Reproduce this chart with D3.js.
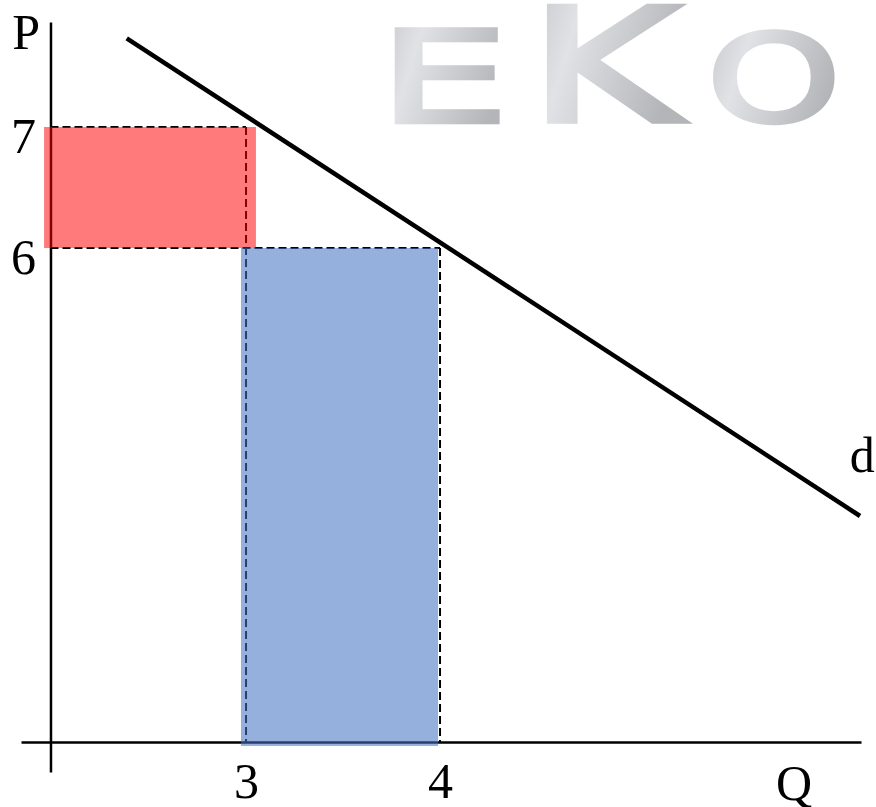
<!DOCTYPE html>
<html>
<head>
<meta charset="utf-8">
<script src="https://cdn.jsdelivr.net/npm/d3@7"></script>
<style>
  html, body { margin: 0; padding: 0; background: #fff; }
  svg { display: block; }
  text { font-family: "Liberation Serif", "DejaVu Serif", serif; }
</style>
</head>
<body>
<svg id="chart" width="876" height="807"></svg>
<script>
// Quantity / price extents of the drawn axes
const qExtent = [1.84, 6.17];
const pExtent = [1.669, 7.868];
const origin = { q: 1.992, p: 1.917 };

// Tick values and labels
const qTicks = [3, 4];
const pTicks = [6, 7];

// Demand curve d
const demand = [
  { q: 2.385, p: 7.733 },
  { q: 6.165, p: 3.785 }
];

// Guide lines (price/quantity pairs)
const guides = [
  { q0: origin.q, p0: 7, q1: 3, p1: 7 },
  { q0: 3, p0: 7, q1: 3, p1: origin.p },
  { q0: origin.q, p0: 6, q1: 4, p1: 6 },
  { q0: 4, p0: 6, q1: 4, p1: origin.p }
];

// Shaded areas: price effect (red) and quantity effect (blue)
const areas = [
  { q0: 1.959, q1: 3.051, p0: 6, p1: 7, fill: "#ff0000", opacity: 0.52 },
  { q0: 2.974, q1: 3.990, p0: 1.884, p1: 6, fill: "#4472c4", opacity: 0.56 }
];

const svg = d3.select("#chart");

const x = d3.scaleLinear().domain(qExtent).range([21, 861]);
const y = d3.scaleLinear().domain(pExtent).range([772, 22]);

// Watermark letters, each stretched to its own box using the glyph's ink bounds
const defs = svg.append("defs");
const grad = defs.append("linearGradient")
  .attr("id", "metal").attr("x1", "0").attr("y1", "0").attr("x2", "1").attr("y2", "0.35");
grad.append("stop").attr("offset", "0%").attr("stop-color", "#c3c4c7");
grad.append("stop").attr("offset", "35%").attr("stop-color", "#e1e2e5");
grad.append("stop").attr("offset", "100%").attr("stop-color", "#b4b5b9");

const wmStroke = 3.5; // outline width in unscaled font units, thickens the glyphs
const marks = [
  { ch: "E", box: [393, 27, 500, 124] },
  { ch: "K", box: [545, 4, 688, 124] },
  { ch: "O", box: [712, 27, 836, 124] }
];
const ctx = document.createElement("canvas").getContext("2d");
ctx.font = "normal 100px 'DejaVu Sans'";
const wm = svg.append("g").attr("class", "watermark");
marks.forEach(m => {
  const mt = ctx.measureText(m.ch);
  const h = wmStroke / 2;
  const inkL = -mt.actualBoundingBoxLeft - h, inkR = mt.actualBoundingBoxRight + h;
  const inkT = -mt.actualBoundingBoxAscent - h, inkB = mt.actualBoundingBoxDescent + h;
  const sx = (m.box[2] - m.box[0]) / (inkR - inkL);
  const sy = (m.box[3] - m.box[1]) / (inkB - inkT);
  wm.append("text")
    .text(m.ch)
    .style("font-family", "'DejaVu Sans', sans-serif")
    .style("font-weight", "normal")
    .style("font-size", "100px")
    .attr("fill", "url(#metal)")
    .attr("stroke", "url(#metal)")
    .attr("stroke-width", wmStroke)
    .attr("stroke-linejoin", "miter")
    .attr("transform", `translate(${m.box[0] - inkL * sx},${m.box[1] - inkT * sy}) scale(${sx},${sy})`);
});

// Guide lines
svg.append("g").selectAll("line")
  .data(guides).join("line")
  .attr("x1", d => x(d.q0)).attr("y1", d => y(d.p0))
  .attr("x2", d => x(d.q1)).attr("y2", d => y(d.p1))
  .style("stroke", "#000").style("stroke-width", "2px")
  .style("stroke-dasharray", "8,4");

// Axes
const xAxis = svg.append("g")
  .attr("transform", `translate(0,${y(origin.p)})`)
  .call(d3.axisBottom(x).tickValues(qTicks).tickFormat(d3.format("d")).tickSize(0).tickPadding(0));
const yAxis = svg.append("g")
  .attr("transform", `translate(${x(origin.q)},0)`)
  .call(d3.axisLeft(y).tickValues(pTicks).tickFormat(d3.format("d")).tickSize(0).tickPadding(0));

[xAxis, yAxis].forEach(g => {
  g.select(".domain").style("stroke", "#000").style("stroke-width", "2.5px");
  g.selectAll(".tick text")
    .style("font-family", "'Liberation Serif', 'DejaVu Serif', serif")
    .style("font-size", "50px")
    .attr("fill", "#000");
});
xAxis.selectAll(".tick text").attr("y", 56).attr("dy", 0);
yAxis.selectAll(".tick text").attr("x", -27).attr("dy", "0.5em").attr("text-anchor", "middle");

// Shaded areas
svg.append("g").selectAll("rect")
  .data(areas).join("rect")
  .attr("x", d => x(d.q0))
  .attr("y", d => y(d.p1))
  .attr("width", d => x(d.q1) - x(d.q0))
  .attr("height", d => y(d.p0) - y(d.p1))
  .attr("fill", d => d.fill)
  .attr("fill-opacity", d => d.opacity);

// Demand curve
svg.append("path")
  .datum(demand)
  .attr("d", d3.line().x(d => x(d.q)).y(d => y(d.p)))
  .attr("fill", "none")
  .attr("stroke", "#000")
  .attr("stroke-width", 4.5);

// Axis titles and curve label
const labels = [
  { text: "P", q: 1.866, p: 7.644 },
  { text: "Q", q: 5.825, p: 1.438 },
  { text: "d", q: 6.176, p: 4.151 }
];
svg.append("g").selectAll("text")
  .data(labels).join("text")
  .attr("x", d => x(d.q)).attr("y", d => y(d.p))
  .attr("text-anchor", "middle")
  .style("font-size", "50px")
  .attr("fill", "#000")
  .text(d => d.text);
</script>
</body>
</html>
